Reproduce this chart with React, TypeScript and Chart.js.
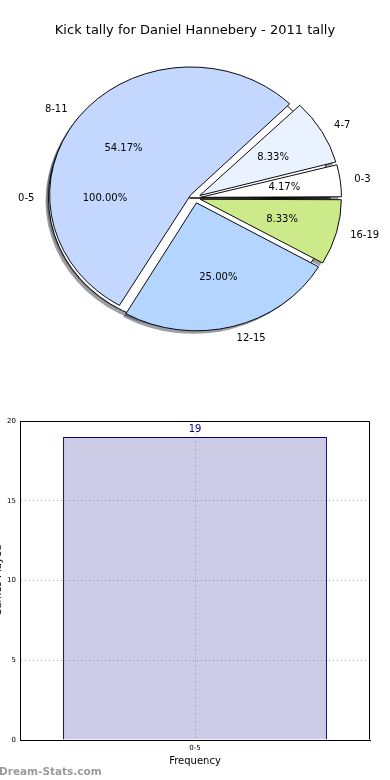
import React, { useEffect, useRef } from 'react';
import { Chart, registerables } from 'chart.js';

Chart.register(...registerables);
Chart.defaults.font.family = '"DejaVu Sans", sans-serif';

const TITLE = 'Kick tally for Daniel Hannebery - 2011 tally';

// exploded pie (inner)
const sliceLabels = ['0-3', '4-7', '8-11', '12-15', '16-19'];
const sliceValues = [1, 2, 13, 6, 2];
const sliceColors = ['#ffffff', '#eaf1ff', '#c4d8ff', '#b4d5ff', '#cdea8a'];
const sliceExplode = [22, 22, 22, 22, 22];

// underlying full pie
const baseLabels = ['0-5'];
const baseValues = [19];
const baseColors = ['#ffffff'];
const baseExplode = [22];

// bar chart
const barCategories = ['0-5'];
const barValues = [19];
const yTicks = [0, 5, 10, 15, 20];
const X_TITLE = 'Frequency';
const Y_TITLE = 'Games Played';

const R = 141;
const SY = 128 / 141;
const FONT = '"DejaVu Sans", sans-serif';

const pct = (vals: number[]) => {
  const t = vals.reduce((a, b) => a + b, 0);
  return vals.map((v) => ((v / t) * 100).toFixed(2) + '%');
};
const rev = <T,>(a: T[]) => [...a].reverse();

const ellipsePlugin = {
  id: 'ellipse',
  beforeDatasetsDraw(chart: any) {
    const meta = chart.getDatasetMeta(0);
    meta.data.forEach((arc: any) => {
      const off = (arc.options.offset || 0) / 4;
      const fix = 1 - Math.sin(Math.min(Math.PI, arc.circumference || 0));
      arc.outerRadius = R - off * fix;
    });
    const a = meta.data[0];
    const ctx = chart.ctx;
    ctx.save();
    ctx.translate(a.x, a.y);
    ctx.scale(1, SY);
    ctx.translate(-a.x, -a.y);
  },
  afterDatasetsDraw(chart: any) {
    chart.ctx.restore();
  },
};

type LabelSource = { chart: Chart; labels: string[]; pcts: string[] };

// draws the texts of every pie layer on the top layer, so texts sit above all wedges
const makeLabelPlugin = (sources: () => LabelSource[]) => ({
  id: 'pieLabels',
  afterDraw(chart: any) {
    const ctx = chart.ctx;
    ctx.save();
    ctx.font = `10px ${FONT}`;
    ctx.fillStyle = '#000';
    ctx.textBaseline = 'middle';
    sources().forEach((src) => {
      const meta = (src.chart as any).getDatasetMeta(0);
      meta.data.forEach((arc: any, i: number) => {
        const th = (arc.startAngle + arc.endAngle) / 2;
        const off = (arc.options.offset || 0) / 4;
        const c = Math.cos(th);
        const s = Math.sin(th);
        const cx = arc.x + c * off;
        const cy = arc.y + s * off * SY;
        ctx.textAlign = c > 1e-9 ? 'left' : 'right';
        ctx.fillText(src.labels[i], cx + 1.1 * R * c, cy + 1.1 * R * s * SY);
        ctx.textAlign = 'center';
        ctx.fillText(src.pcts[i], cx + 0.6 * R * c, cy + 0.6 * R * s * SY);
      });
    });
    ctx.restore();
  },
});

const framePlugin = {
  id: 'frame',
  afterDatasetsDraw(chart: any) {
    const { left, top, right, bottom } = chart.chartArea;
    const ctx = chart.ctx;
    ctx.save();
    ctx.strokeStyle = '#000';
    ctx.lineWidth = 1;
    const l = Math.round(left) + 0.5;
    const t = Math.round(top) + 0.5;
    const r = Math.round(right) - 0.5;
    const b = Math.round(bottom) - 0.5;
    ctx.beginPath();
    ctx.moveTo(l, b);
    ctx.lineTo(l, t);
    ctx.lineTo(r, t);
    ctx.lineTo(r, b);
    ctx.stroke();
    ctx.restore();
  },
};

const valuePlugin = {
  id: 'barValues',
  afterDatasetsDraw(chart: any) {
    const meta = chart.getDatasetMeta(0);
    const ctx = chart.ctx;
    ctx.save();
    ctx.font = `10px ${FONT}`;
    ctx.fillStyle = '#000080';
    ctx.textAlign = 'center';
    ctx.textBaseline = 'middle';
    meta.data.forEach((bar: any, i: number) => {
      ctx.fillText(String(barValues[i]), bar.x, bar.y - 8);
    });
    ctx.restore();
  },
};

function makePie(
  canvas: HTMLCanvasElement,
  labels: string[],
  values: number[],
  colors: string[],
  borderWidth: number,
  offsets: number[],
  extraPlugins: any[]
) {
  return new Chart(canvas, {
    type: 'pie',
    data: {
      labels,
      datasets: [
        {
          data: values,
          backgroundColor: colors,
          borderColor: '#000',
          borderWidth,
          offset: offsets,
          radius: R,
          rotation: 90,
        } as any,
      ],
    },
    options: {
      animation: false,
      responsive: false,
      events: [],
      layout: { padding: 0 },
      plugins: { legend: { display: false }, tooltip: { enabled: false } },
    } as any,
    plugins: [ellipsePlugin, ...extraPlugins],
  });
}

export default function App() {
  const shBase = useRef<HTMLCanvasElement>(null);
  const shSlices = useRef<HTMLCanvasElement>(null);
  const base = useRef<HTMLCanvasElement>(null);
  const slices = useRef<HTMLCanvasElement>(null);
  const bar = useRef<HTMLCanvasElement>(null);

  useEffect(() => {
    const charts: Chart[] = [];
    const rLabels = rev(sliceLabels);
    const rValues = rev(sliceValues);
    const rColors = rev(sliceColors);
    const rExplode = rev(sliceExplode);
    const rPcts = rev(pct(sliceValues));
    const shadowCol = 'rgba(60,64,77,0.5)';

    charts.push(makePie(shBase.current!, baseLabels, baseValues, baseValues.map(() => shadowCol), 0, baseExplode, []));
    charts.push(makePie(shSlices.current!, rLabels, rValues, rValues.map(() => shadowCol), 0, rExplode, []));
    const baseChart = makePie(base.current!, baseLabels, baseValues, baseColors, 1, baseExplode, []);
    charts.push(baseChart);
    let sliceChart: Chart | null = null;
    const sources = (): LabelSource[] => {
      const out: LabelSource[] = [{ chart: baseChart, labels: baseLabels, pcts: pct(baseValues) }];
      if (sliceChart) out.push({ chart: sliceChart, labels: rLabels, pcts: rPcts });
      return out;
    };
    sliceChart = makePie(slices.current!, rLabels, rValues, rColors, 1, rExplode, [makeLabelPlugin(sources)]);
    sliceChart.draw();
    charts.push(sliceChart);

    charts.push(
      new Chart(bar.current!, {
        type: 'bar',
        data: {
          labels: barCategories,
          datasets: [
            {
              data: barValues,
              backgroundColor: 'rgba(0,0,128,0.2)',
              borderColor: '#00008b',
              borderWidth: 1,
              barPercentage: 0.754,
              categoryPercentage: 1,
            },
          ],
        },
        options: {
          animation: false,
          responsive: false,
          events: [],
          layout: { padding: { left: 0, right: 20, top: 21, bottom: 0 } },
          plugins: { legend: { display: false }, tooltip: { enabled: false } },
          scales: {
            x: {
              grid: { color: '#b0b0b0', lineWidth: 1, drawTicks: false, offset: false },
              border: { color: '#000', dash: [1, 3] },
              ticks: { font: { size: 7, family: FONT }, color: '#000', padding: 4 },
              title: {
                display: true,
                text: X_TITLE,
                font: { size: 10, family: FONT },
                color: '#000',
                padding: { top: 0, bottom: 13 },
              },
              afterFit: (s: any) => {
                s.height = 40;
              },
            },
            y: {
              min: 0,
              max: 20,
              grid: { color: '#b0b0b0', lineWidth: 1, drawTicks: false },
              border: { color: '#000', dash: [1, 3] },
              ticks: { font: { size: 7, family: FONT }, color: '#000', padding: 4 },
              afterBuildTicks: (s: any) => {
                s.ticks = yTicks.map((v) => ({ value: v }));
              },
              title: {
                display: true,
                text: Y_TITLE,
                font: { size: 10, family: FONT },
                color: '#000',
                padding: { top: 2, bottom: 0 },
              },
              afterFit: (s: any) => {
                s.width = 30;
              },
            },
          },
        } as any,
        plugins: [framePlugin, valuePlugin],
      })
    );

    return () => charts.forEach((c) => c.destroy());
  }, []);

  const pieStyle = (dx: number, dy: number): React.CSSProperties => ({
    position: 'absolute',
    left: dx,
    top: 28 + dy,
    width: 390,
    height: 340,
  });

  return (
    <div style={{ position: 'absolute', left: 0, top: 0, width: 390, height: 780, overflow: 'hidden', background: '#fff' }}>
      <canvas ref={shBase} width={390} height={340} style={pieStyle(-3, 3)} />
      <canvas ref={shSlices} width={390} height={340} style={pieStyle(-3, 3)} />
      <canvas ref={base} width={390} height={340} style={pieStyle(0, 0)} />
      <canvas ref={slices} width={390} height={340} style={pieStyle(0, 0)} />
      <div
        style={{
          position: 'absolute',
          left: 0,
          top: 22,
          width: 390,
          textAlign: 'center',
          font: `13px ${FONT}`,
          lineHeight: '16px',
          color: '#000',
        }}
      >
        {TITLE}
      </div>
      <canvas ref={bar} width={400} height={380} style={{ position: 'absolute', left: -10, top: 400, width: 400, height: 380 }} />
      <div
        style={{
          position: 'absolute',
          left: -1,
          top: 763,
          font: `bold 10.5px ${FONT}`,
          lineHeight: '16px',
          color: '#9a9a9a',
        }}
      >
        Dream-Stats.com
      </div>
    </div>
  );
}
